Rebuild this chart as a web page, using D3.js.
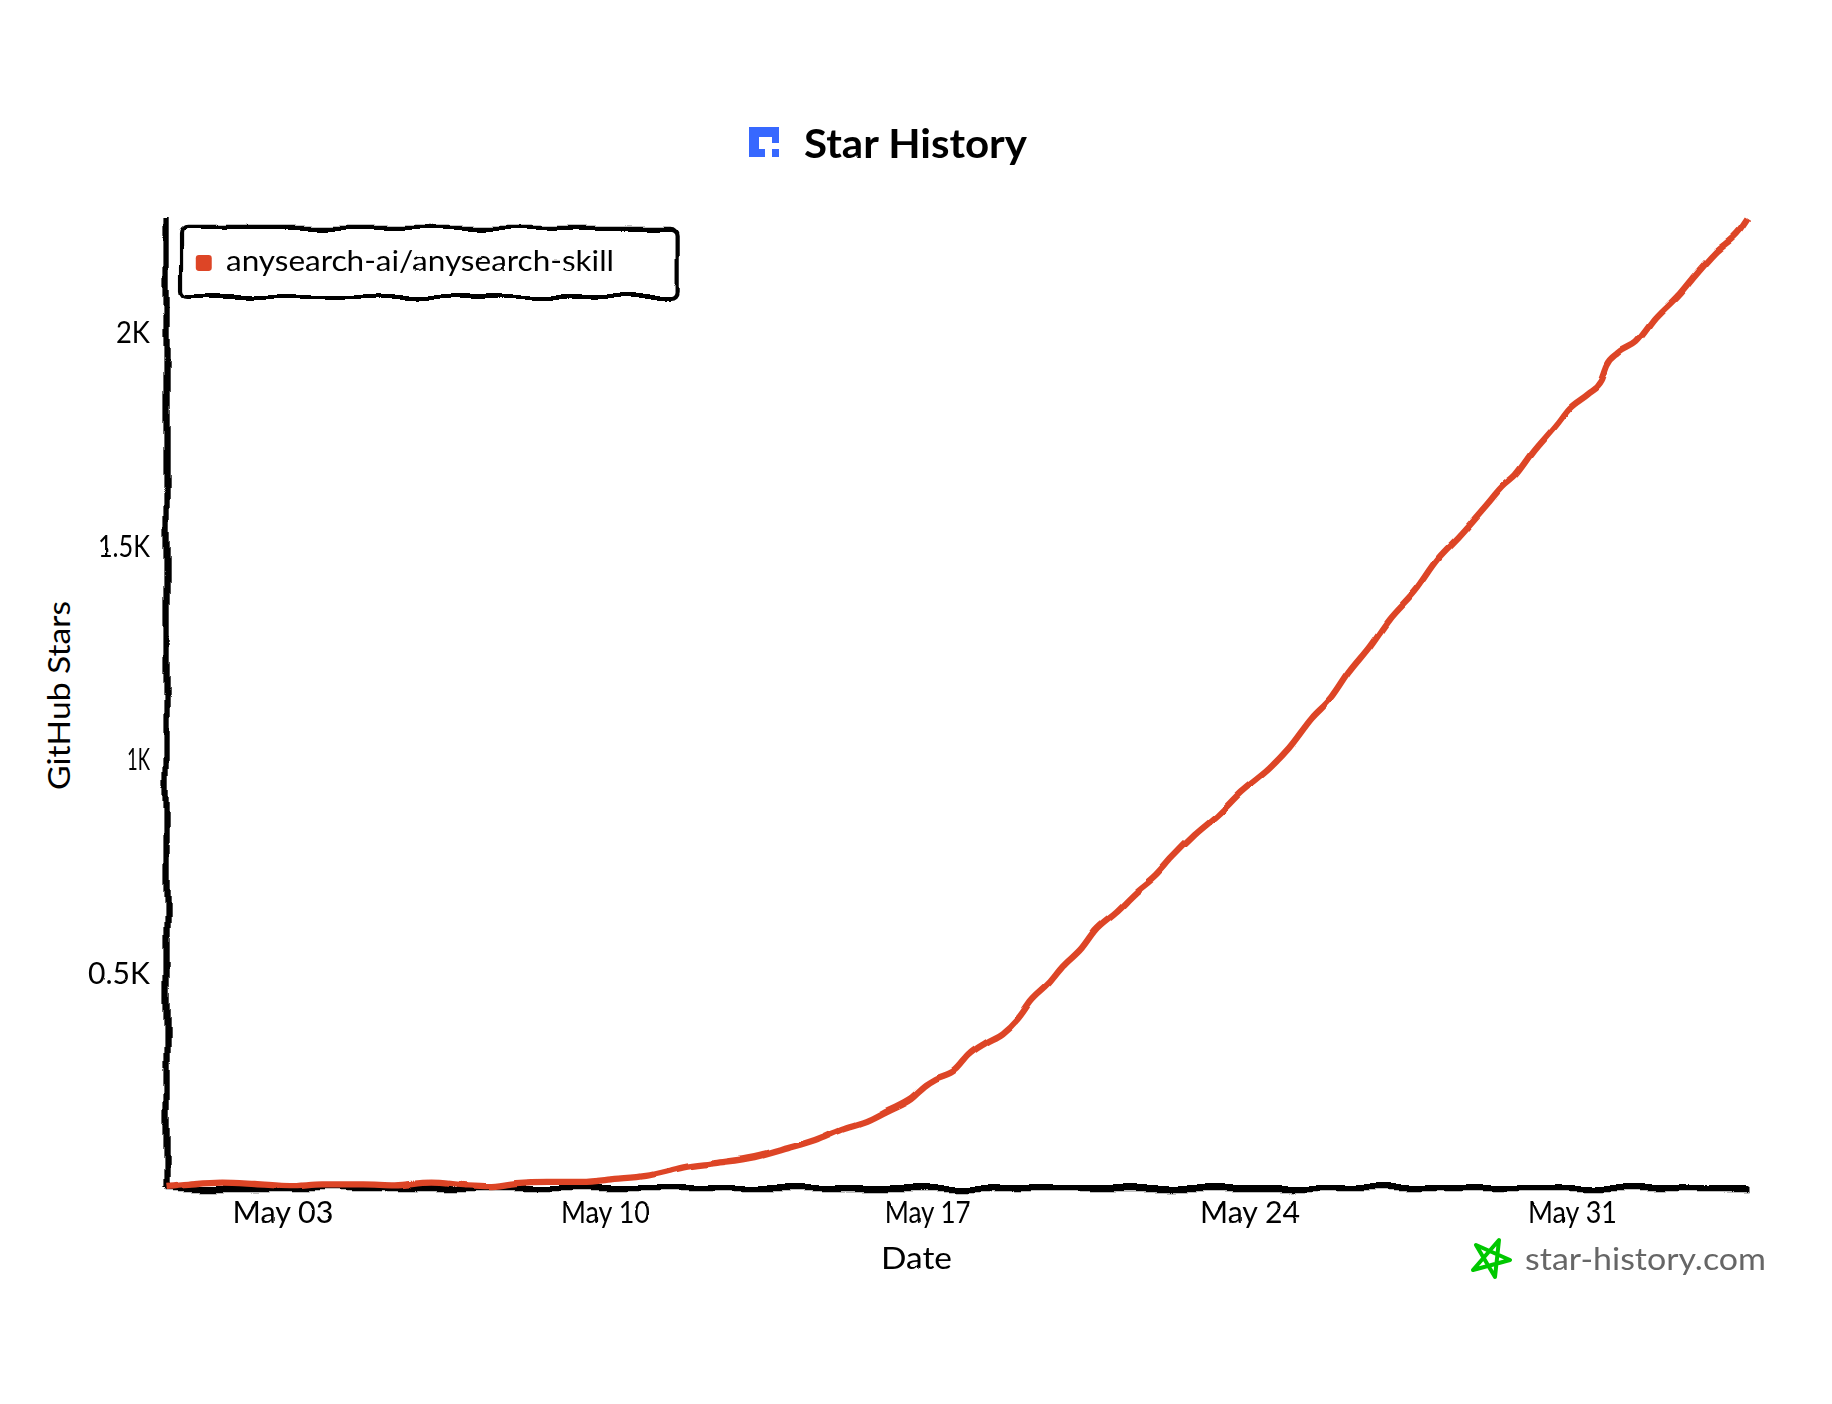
<!DOCTYPE html>
<html>
<head>
<meta charset="utf-8">
<title>Star History</title>
<script src="https://cdn.jsdelivr.net/npm/d3@7"></script>
<style>
  html, body { margin: 0; padding: 0; background: #fff; }
  svg { display: block; }
  text { font-family: Lato, "Noto Sans", sans-serif; fill: #000; }
</style>
</head>
<body>
<div id="chart"></div>
<script>
// values
var seriesName = "anysearch-ai/anysearch-skill";
var dates = ["Apr 30 11:30","Apr 30 23:30","May 01 17:00","May 02 10:00","May 03 05:00","May 03 21:00","May 04 18:00",
  "May 05 11:00","May 06 06:00","May 07 00:00","May 07 12:00","May 08 02:00","May 08 19:00","May 09 12:00","May 10 06:00","May 10 22:00",
  "May 11 10:00","May 11 17:00","May 12 10:00","May 13 07:00","May 14 00:00","May 14 14:00","May 15 04:00","May 15 18:00",
  "May 16 04:00","May 16 16:00","May 17 00:00","May 17 05:00","May 17 15:00","May 17 22:00","May 18 07:00","May 18 16:00",
  "May 19 00:00","May 19 07:00","May 19 16:00","May 19 23:00","May 20 09:00","May 20 16:00","May 21 03:00","May 21 13:00",
  "May 22 00:00","May 22 08:00","May 22 20:00","May 23 08:00","May 23 20:00","May 24 11:00","May 24 21:00","May 25 09:00",
  "May 25 19:00","May 26 04:00","May 26 15:00","May 27 01:00","May 27 15:00","May 28 03:00","May 28 13:00","May 29 04:00",
  "May 29 12:00","May 29 19:00","May 30 04:00","May 30 16:00","May 30 23:00","May 31 09:00","May 31 16:00","May 31 19:00",
  "Jun 01 01:00","Jun 01 10:00","Jun 01 20:00","Jun 02 08:00","Jun 02 15:00","Jun 03 03:00","Jun 03 16:00","Jun 03 20:00"];
var stars = [0,5,10,7,2,6,6,4,10,4,2,9,12,12,19,26,
  38,46,56,70,91,110,136,157,
  180,208,239,253,274,309,337,360,
  395,438,477,515,559,601,644,688,
  730,770,824,870,924,980,1027,1097,
  1144,1203,1264,1327,1397,1472,1519,1596,
  1638,1666,1720,1783,1823,1858,1888,1923,
  1952,1977,2033,2087,2125,2186,2239,2265];
var xTicks = ["May 03","May 10","May 17","May 24","May 31"];
var xTickWidths = [101, 89, 86, 100, 89];
var yTicks = [500, 1000, 1500, 2000];
var yTickLabels = ["0.5K","1K","1.5K","2K"];
var yTickWidths = [62, 23, 52, 34];
var yMax = 2270;

var lineColor = "#dd4528";

var svg = d3.select("#chart").append("svg")
  .attr("width", 1832)
  .attr("height", 1404);

svg.append("rect").attr("width", 1832).attr("height", 1404).attr("fill", "#fff");

// noise displacement filters, for the sketchy look
var defs = svg.append("defs");
function addFilter(id, freq, scale) {
  var f = defs.append("filter").attr("id", id)
    .attr("filterUnits", "userSpaceOnUse")
    .attr("x", -200).attr("y", -200).attr("width", 2400).attr("height", 1900);
  f.append("feTurbulence").attr("type", "fractalNoise").attr("baseFrequency", freq).attr("result", "noise");
  f.append("feDisplacementMap").attr("scale", scale)
    .attr("xChannelSelector", "R").attr("yChannelSelector", "G")
    .attr("in", "SourceGraphic").attr("in2", "noise");
}
addFilter("xkcdify", 0.05, 6);      // axes, legend box
addFilter("soft", 0.05, 2.5);       // the line, its values already carry the wobble
addFilter("inkChart", 0.17, 1);     // tick labels (chart units)
addFilter("ink", 0.08, 2);          // other text (pixels)

var s = 2.1;
var chart = svg.append("g").attr("transform", "translate(18.5,91) scale(" + s + ")");

var parseDate = d3.utcParse("%b %d %H:%M");
var parseTick = d3.utcParse("%b %d");
var data = dates.map(function(d, i) { return { date: parseDate(d), stars: stars[i] }; });

var x = d3.scaleUtc()
  .domain([data[0].date, data[data.length - 1].date])
  .range([70, 70 + 753.3]);
var y = d3.scaleLinear()
  .domain([0, yMax])
  .range([60 + 461.9, 60]);

// x axis
var xAxis = chart.append("g")
  .attr("transform", "translate(0," + y(0) + ")")
  .call(d3.axisBottom(x)
    .tickValues(xTicks.map(function(d) { return parseTick(d); }))
    .tickFormat(d3.utcFormat("%b %d"))
    .tickSize(0));
// y axis
var yAxis = chart.append("g")
  .attr("transform", "translate(" + x.range()[0] + ",0)")
  .call(d3.axisLeft(y)
    .tickValues(yTicks)
    .tickFormat(function(d, i) { return yTickLabels[i]; })
    .tickSize(0));

chart.selectAll(".domain")
  .attr("stroke", "#000")
  .attr("stroke-width", 3)
  .attr("fill", "none")
  .attr("filter", "url(#xkcdify)");

xAxis.selectAll("text")
  .attr("x", 0.2).attr("y", 17).attr("dy", 0)
  .attr("font-family", null)
  .attr("font-size", 30 / s)
  .attr("textLength", function(d, i) { return xTickWidths[i] / s; })
  .attr("lengthAdjust", "spacingAndGlyphs")
  .attr("filter", "url(#inkChart)");
yAxis.selectAll("text")
  .attr("x", -7.4).attr("dy", 4.6)
  .attr("font-family", null)
  .attr("font-size", 30 / s)
  .attr("textLength", function(d, i) { return yTickWidths[i] / s; })
  .attr("lengthAdjust", "spacingAndGlyphs")
  .attr("filter", "url(#inkChart)");

// the line
var line = d3.line()
  .x(function(d) { return x(d.date); })
  .y(function(d) { return y(d.stars); })
  .curve(d3.curveMonotoneX);
chart.append("path")
  .datum(data)
  .attr("d", line)
  .attr("fill", "none")
  .attr("stroke", lineColor)
  .attr("stroke-width", 3)
  .attr("stroke-linejoin", "round")
  .attr("filter", "url(#soft)");

// legend
chart.append("rect")
  .attr("x", 77.4).attr("y", 65.2)
  .attr("width", 236).attr("height", 32.9)
  .attr("rx", 3).attr("ry", 3)
  .attr("fill", "#fff")
  .attr("stroke", "#000")
  .attr("stroke-width", 2)
  .attr("filter", "url(#xkcdify)");
chart.append("rect")
  .attr("x", 84.9).attr("y", 78.1)
  .attr("width", 7.6).attr("height", 7.6)
  .attr("rx", 1.5).attr("ry", 1.5)
  .attr("fill", lineColor)
  .attr("filter", "url(#soft)");
svg.append("text")
  .attr("x", 226).attr("y", 271)
  .attr("font-size", 28)
  .attr("textLength", 388)
  .attr("lengthAdjust", "spacingAndGlyphs")
  .attr("filter", "url(#ink)")
  .text(seriesName);

// axis labels
svg.append("text")
  .attr("x", 881).attr("y", 1269)
  .attr("font-size", 31)
  .attr("textLength", 71)
  .attr("lengthAdjust", "spacingAndGlyphs")
  .attr("filter", "url(#ink)")
  .text("Date");
svg.append("text")
  .attr("transform", "translate(70,790) rotate(-90)")
  .attr("font-size", 31)
  .attr("textLength", 189)
  .attr("lengthAdjust", "spacingAndGlyphs")
  .text("GitHub Stars");

// title with logo
svg.append("path")
  .attr("d", "M749 127H779V143H772V137H759V149H765V157H749ZM772 149H779V157H772Z")
  .attr("fill", "#3768ff");
svg.append("text")
  .attr("x", 804).attr("y", 158)
  .attr("font-size", 40)
  .attr("font-weight", 700)
  .attr("textLength", 223)
  .attr("lengthAdjust", "spacingAndGlyphs")
  .attr("filter", "url(#ink)")
  .text("Star History");

// watermark
svg.append("path")
  .attr("d", "M1499 1240L1495 1277L1476 1245L1510 1260L1473 1270Z")
  .attr("fill", "none")
  .attr("stroke", "#00c800")
  .attr("stroke-width", 4)
  .attr("stroke-linejoin", "round");
svg.append("text")
  .attr("x", 1525).attr("y", 1270)
  .attr("font-size", 30)
  .attr("textLength", 241)
  .attr("lengthAdjust", "spacingAndGlyphs")
  .attr("filter", "url(#ink)")
  .style("fill", "#666")
  .text("star-history.com");
</script>
</body>
</html>
